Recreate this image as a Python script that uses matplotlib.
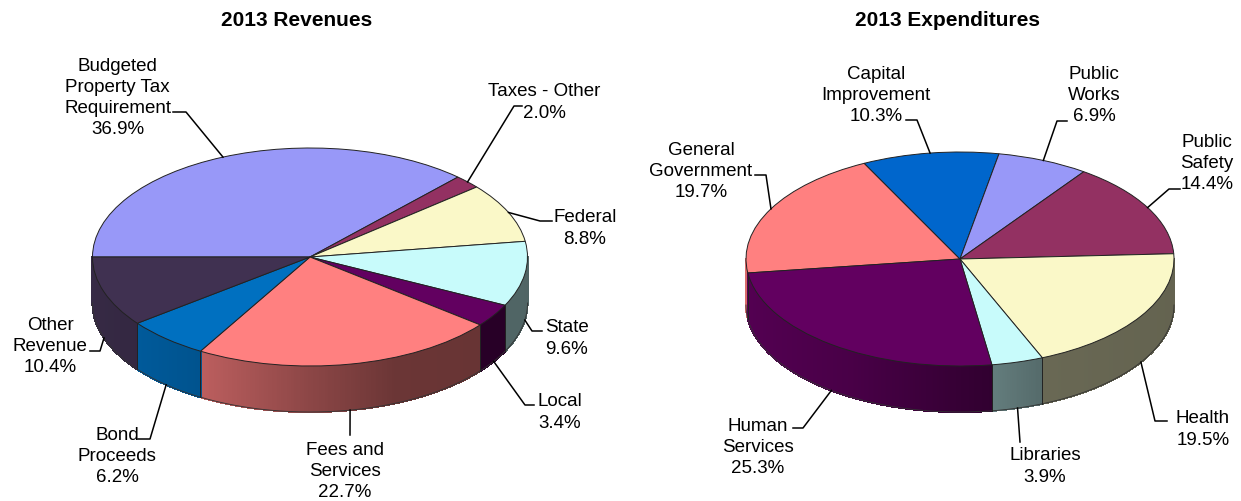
import numpy as np
import matplotlib
matplotlib.use('Agg')
import matplotlib.pyplot as plt
from matplotlib.colors import to_rgb
from matplotlib.lines import Line2D

W, H = 1241, 502

rev_labels = ['Budgeted\nProperty Tax\nRequirement', 'Taxes - Other', 'Federal', 'State', 'Local',
              'Fees and\nServices', 'Bond\nProceeds', 'Other\nRevenue']
rev_values = [36.9, 2.0, 8.8, 9.6, 3.4, 22.7, 6.2, 10.4]
rev_colors = ['#9898f8', '#933162', '#faf8c8', '#c8fbfb', '#620060', '#ff8080', '#0070c0', '#403151']

exp_labels = ['General\nGovernment', 'Capital\nImprovement', 'Public\nWorks', 'Public\nSafety',
              'Health', 'Libraries', 'Human\nServices']
exp_values = [19.7, 10.3, 6.9, 14.4, 19.5, 3.9, 25.3]
exp_colors = ['#ff8080', '#0066cc', '#9898f8', '#933162', '#faf8c8', '#c8fbfb', '#620060']

plt.rcParams['font.family'] = ['Liberation Sans', 'DejaVu Sans']

fig = plt.figure(figsize=(W / 100, H / 100), dpi=100)


def fx(x):
    return x / W


def fy(y):
    return 1 - y / H


def shade(x):
    # wall gets darker going left to right
    return np.interp(x, [-1, -0.5, 0, 0.4, 1], [0.85, 0.74, 0.55, 0.42, 0.40])


def walls(ax, values, colors, start, depth):
    a = start
    for v, c in zip(values, colors):
        a2 = a - v * 3.6
        t1, t2 = a % 360, a2 % 360
        # only the front half shows, angles 180-360
        lo, hi = t2, t1 if t1 > t2 else t1 + 360
        for shift in (0, 360):
            s, e = max(lo, 180 + shift), min(hi, 360 + shift)
            if e <= s:
                continue
            th = np.radians(np.linspace(s, e, int((e - s) * 2) + 2))
            for i in range(len(th) - 1):
                xs = np.cos(th[i:i + 2])
                ys = np.sin(th[i:i + 2])
                col = np.array(to_rgb(c)) * shade(xs.mean())
                ax.fill(np.r_[xs, xs[::-1]], np.r_[ys, ys[::-1] - depth], color=col, lw=0.8,
                        antialiased=False, zorder=0.5)
            xx = np.cos(th)
            yy = np.sin(th)
            ax.plot(xx, yy - depth, color='#333333', lw=0.6, zorder=0.6)
            for k, ang in ((0, s), (-1, e)):
                if ang % 180 != 0:
                    ax.plot([xx[k], xx[k]], [yy[k], yy[k] - depth], color='#222222', lw=0.6, zorder=0.6)
        a = a2


def draw_pie(values, colors, labels, start, cx, cy, rx, ry, dep, label_pos, elbows, title, title_x):
    pad = 10
    left, right = cx - rx - pad, cx + rx + pad
    top, bottom = cy - ry - pad, cy + ry + dep + pad
    ax = fig.add_axes([fx(left), fy(bottom), (right - left) / W, (bottom - top) / H])
    depth = dep / ry
    ax.pie(values, colors=colors, startangle=start, counterclock=False, radius=1,
           wedgeprops={'edgecolor': '#222222', 'linewidth': 0.7})
    walls(ax, values, colors, start, depth)
    ax.set_aspect('auto')
    ax.set_xlim(-1 - pad / rx, 1 + pad / rx)
    ax.set_ylim(-1 - depth - pad / ry, 1 + pad / ry)
    ax.axis('off')

    # labels and leader lines, leader starts at the middle of the slice
    a = start
    for i, v in enumerate(values):
        mid = np.radians(a - v * 1.8)
        a -= v * 3.6
        px = cx + rx * np.cos(mid)
        py = cy - ry * np.sin(mid)
        if np.sin(mid) < 0:
            py += dep
        xs = [px] + [e[0] for e in elbows[i]]
        ys = [py] + [e[1] for e in elbows[i]]
        fig.add_artist(Line2D([fx(x) for x in xs], [fy(y) for y in ys], color='black', lw=1.1,
                              transform=fig.transFigure))
        fig.text(fx(label_pos[i][0]), fy(label_pos[i][1] + 1.5), labels[i] + '\n%.1f%%' % v, ha='center',
                 va='center', fontsize=13.5, linespacing=1.33, color='black')
    fig.text(fx(title_x), fy(20), title, ha='center', va='center', fontsize=15, fontweight='bold')


draw_pie(rev_values, rev_colors, rev_labels, 180, 310, 258, 217.5, 109, 46,
         [(117.5, 96.5), (544, 101), (585, 227), (567, 337), (560, 411), (345, 470), (117, 455), (50, 345)],
         [[(186, 113), (173, 113)], [(514, 107), (522, 107)], [(540, 222), (552, 222)], [(532, 332), (542, 332)],
          [(525, 406), (534, 406)], [(350, 436)], [(150, 440), (138, 440)], [(100, 352), (90, 352)]],
         '2013 Revenues', 297)

draw_pie(exp_values, exp_colors, exp_labels, 187.5, 960, 260, 214, 107, 46,
         [(701, 170), (876, 94), (1094, 94), (1207, 162), (1203, 428), (1045, 465), (758, 446)],
         [[(766, 176), (755, 176)], [(917, 121), (906, 121)], [(1057, 122), (1067, 122)], [(1169, 190), (1180, 190)],
          [(1155, 422), (1167, 422)], [(1020, 443)], [(803, 429), (793, 429)]],
         '2013 Expenditures', 947)

fig.savefig('out.png', dpi=100)
